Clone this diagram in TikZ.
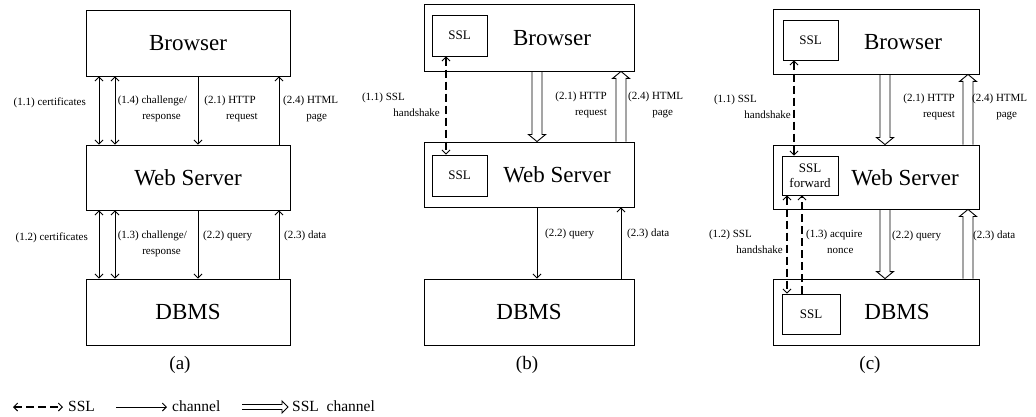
\documentclass[tikz,border=0pt]{standalone}
\usepackage{fontspec}
\setmainfont{Liberation Serif}
\usetikzlibrary{arrows.meta,calc}
\begin{document}
\begin{tikzpicture}[x=1pt,y=-1pt,
  box/.style={draw, line width=0.9pt, inner sep=0pt, font=\fontsize{23}{26}\selectfont},
  sslbox/.style={draw, line width=0.9pt, inner sep=0pt, align=center, font=\fontsize{13}{15}\selectfont},
  big/.style={inner sep=0pt, font=\fontsize{23}{26}\selectfont},
  lbl/.style={inner sep=0pt, font=\fontsize{11}{15.5}\selectfont},
  subcap/.style={inner sep=0pt, font=\fontsize{19}{22}\selectfont},
  leg/.style={inner sep=0pt, anchor=west, font=\fontsize{15.5}{18}\selectfont},
  ch/.style={line width=0.9pt, -{Straight Barb[length=4pt,width=8pt]}},
  chb/.style={line width=0.9pt, {Straight Barb[length=4pt,width=8pt]}-{Straight Barb[length=4pt,width=8pt]}},
  sslar/.style={line width=2pt, dash pattern=on 8pt off 4pt,
     {Straight Barb[length=4pt,width=8pt,line width=0.9pt]}-{Straight Barb[length=4pt,width=8pt,line width=0.9pt]}},
  sslup/.style={line width=1.3pt, dash pattern=on 8pt off 4pt,
     -{Straight Barb[length=4pt,width=8pt,line width=0.9pt]}},
  hollowarr/.style n args={3}{line width=0.9pt, line join=miter,
     to path={let \p1=(\tikztostart), \p2=(\tikztotarget),
                  \p3=($(\p2)!#3!(\p1)$) in
       ($(\p1)!#1!90:(\p2)$) -- ($(\p3)!#1!90:(\p2)$) -- ($(\p3)!#2!90:(\p2)$)
       -- (\p2) -- ($(\p3)!#2!-90:(\p2)$) -- ($(\p3)!#1!-90:(\p2)$)
       -- ($(\p1)!#1!-90:(\p2)$)}},
  hollow/.style={hollowarr={5pt}{8.5pt}{7pt}},
  hollowleg/.style={hollowarr={2.5pt}{6pt}{6pt}}
]
\useasboundingbox (0,0) rectangle (1036,417);

% ---------- (a) ----------
\node[box, minimum width=204pt, minimum height=66pt] (aB) at (188,43) {Browser};
\node[box, minimum width=204pt, minimum height=65pt] (aW) at (188,177.5) {Web Server};
\node[box, minimum width=204pt, minimum height=66pt] (aD) at (188,312) {DBMS};
\coordinate (xa1) at (99,0);
\coordinate (xa2) at (115,0);
\coordinate (xa3) at (198,0);
\coordinate (xa4) at (279,0);
\draw[chb] (aB.south -| xa1) -- (aW.north -| xa1);
\draw[chb] (aB.south -| xa2) -- (aW.north -| xa2);
\draw[ch] (aB.south -| xa3) -- (aW.north -| xa3);
\draw[ch] (aW.north -| xa4) -- (aB.south -| xa4);
\draw[chb] (aW.south -| xa1) -- (aD.north -| xa1);
\draw[chb] (aW.south -| xa2) -- (aD.north -| xa2);
\draw[ch] (aW.south -| xa3) -- (aD.north -| xa3);
\draw[ch] (aD.north -| xa4) -- (aW.south -| xa4);
\node[lbl, anchor=east] (la1) at (86,103) {(1.1) certificates};
\node[lbl, anchor=north east, align=right] (la2) at (187,96) {(1.4) challenge/\\response\hspace*{6pt}};
\node[lbl, anchor=north east, align=right] (la3) at (258,96) {(2.1) HTTP\hspace*{2pt}\\request};
\node[lbl, anchor=north west, align=center] (la4) at (283,96) {(2.4) HTML\\\hspace*{12pt}page};
\node[lbl, anchor=east] (la5) at (88,238) {(1.2) certificates};
\node[lbl, anchor=north east, align=right] (la6) at (187,231) {(1.3) challenge/\\response\hspace*{6pt}};
\node[lbl, anchor=west] (la7) at (203,236) {(2.2) query};
\node[lbl, anchor=west] (la8) at (284,236) {(2.3) data};
\node[subcap] (capa) at (180,365) {(a)};

% ---------- (b) ----------
\node[box, minimum width=210pt, minimum height=67pt] (bB) at (529,37.5) {};
\node[box, minimum width=210pt, minimum height=65pt] (bW) at (529,174.5) {};
\node[box, minimum width=210pt, minimum height=66pt] (bD) at (529,312) {DBMS};
\node[sslbox, minimum width=55pt, minimum height=41pt] (bSB) at (459.5,35.5) {SSL};
\node[sslbox, minimum width=55pt, minimum height=41pt] (bSW) at (459.5,175.5) {SSL};
\node[big] (bBt) at (552,38) {Browser};
\node[big] (bWt) at (557,175) {Web Server};
\coordinate (xb1) at (446,0);
\coordinate (xb2) at (537,0);
\coordinate (xb3) at (621,0);
\draw[sslar] (bSB.south -| xb1) -- (bSW.north -| xb1);
\draw[hollow] (bB.south -| xb2) to (bW.north -| xb2);
\draw[hollow] (bW.north -| xb3) to (bB.south -| xb3);
\draw[ch] (bW.south -| xb2) -- (bD.north -| xb2);
\draw[ch] (bD.north -| xb3) -- (bW.south -| xb3);
\node[lbl, anchor=north east, align=right] (lb1) at (440,93) {(1.1) SSL\hspace*{35pt}\\handshake};
\node[lbl, anchor=north east, align=right] (lb2) at (607,92) {(2.1) HTTP\\request};
\node[lbl, anchor=north west, align=center] (lb3) at (628,92) {(2.4) HTML\\\hspace*{14pt}page};
\node[lbl, anchor=west] (lb4) at (545,234) {(2.2) query};
\node[lbl, anchor=west] (lb5) at (627,234) {(2.3) data};
\node[subcap] (capb) at (527,365) {(b)};

% ---------- (c) ----------
\node[box, minimum width=206pt, minimum height=65pt] (cB) at (876,41.5) {};
\node[box, minimum width=206pt, minimum height=64pt] (cW) at (876,177) {};
\node[box, minimum width=206pt, minimum height=66pt] (cD) at (876,312) {};
\node[sslbox, minimum width=55pt, minimum height=40pt] (cSB) at (810.5,40) {SSL};
\node[sslbox, minimum width=56pt, minimum height=39pt] (cSW) at (810,175.5) {SSL\\forward};
\node[sslbox, minimum width=58pt, minimum height=40pt] (cSD) at (811,314) {SSL};
\node[big] (cBt) at (903,42) {Browser};
\node[big] (cWt) at (905,178) {Web Server};
\node[big] (cDt) at (897,312) {DBMS};
\coordinate (xc1) at (794,0);
\coordinate (xc2) at (787,0);
\coordinate (xc3) at (802,0);
\coordinate (xc4) at (885,0);
\coordinate (xc5) at (968,0);
\draw[sslar] (cSB.south -| xc1) -- (cSW.north -| xc1);
\draw[sslar] (cSW.south -| xc2) -- (cSD.north -| xc2);
\draw[sslup] (cSD.north -| xc3) -- (cSW.south -| xc3);
\draw[hollow] (cB.south -| xc4) to (cW.north -| xc4);
\draw[hollow] (cW.north -| xc5) to (cB.south -| xc5);
\draw[hollow] (cW.south -| xc4) to (cD.north -| xc4);
\draw[hollow] (cD.north -| xc5) to (cW.south -| xc5);
\node[lbl, anchor=north east, align=right] (lc1) at (791,95) {(1.1) SSL\hspace*{34pt}\\handshake};
\node[lbl, anchor=north east, align=right] (lc2) at (955,94) {(2.1) HTTP\\request};
\node[lbl, anchor=north west, align=center] (lc3) at (972,94) {(2.4) HTML\\\hspace*{14pt}page};
\node[lbl, anchor=north east, align=right] (lc4) at (783,230) {(1.2) SSL\hspace*{31pt}\\handshake};
\node[lbl, anchor=north west, align=center] (lc5) at (806,230) {(1.3) acquire\\\hspace*{12pt}nonce};
\node[lbl, anchor=west] (lc6) at (892,236) {(2.2) query};
\node[lbl, anchor=west] (lc7) at (973,236) {(2.3) data};
\node[subcap] (capc) at (870,365) {(c)};

% ---------- legend ----------
\coordinate (g1a) at (13,407);
\coordinate (g1b) at (63,407);
\coordinate (g2a) at (116,407);
\coordinate (g2b) at (167,407);
\coordinate (g3a) at (242,407);
\coordinate (g3b) at (288,407);
\draw[sslar] (g1a) -- (g1b);
\node[leg] (t1) at (68,406) {SSL};
\draw[ch] (g2a) -- (g2b);
\node[leg] (t2) at (172,406) {channel};
\draw[hollowleg] (g3a) to (g3b);
\node[leg] (t3) at (292,406) {SSL\ \ channel};
\end{tikzpicture}
\end{document}
